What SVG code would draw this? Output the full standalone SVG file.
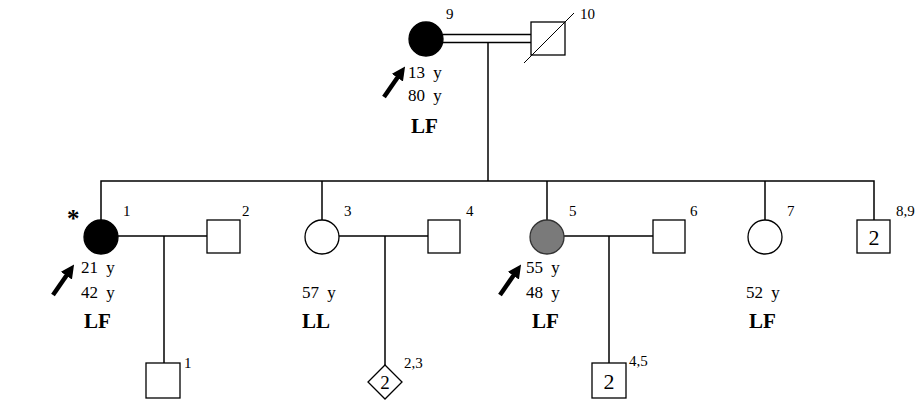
<svg xmlns="http://www.w3.org/2000/svg" width="918" height="408" viewBox="0 0 918 408">
<defs>
<style>
.ln{stroke:#000;stroke-width:1.5;fill:none}
.sym{stroke:#000;stroke-width:1.3;fill:#fff}
.aff{fill:#000;stroke:#000;stroke-width:1.3}
.t{font-family:"Liberation Serif",serif;font-size:17px;word-spacing:4px;fill:#000}
.n{font-family:"Liberation Serif",serif;font-size:15px;fill:#000}
.b{font-family:"Liberation Serif",serif;font-size:21px;font-weight:bold;fill:#000}
.c{font-family:"Liberation Serif",serif;font-size:22px;fill:#000;text-anchor:middle}
.arr{stroke:#000;stroke-width:4.5;fill:none}
</style>
<marker id="ah" viewBox="0 0 10 10" refX="6" refY="5" markerWidth="3" markerHeight="3" orient="auto" markerUnits="strokeWidth">
<path d="M0,0 L10,5 L0,10 Z" fill="#000"/>
</marker>
</defs>
<rect width="918" height="408" fill="#fff"/>
<g id="connectors">
<line class="ln" x1="443" y1="34.5" x2="531" y2="34.5"/>
<line class="ln" x1="443" y1="42.5" x2="531" y2="42.5"/>
<line class="ln" x1="488" y1="42.5" x2="488" y2="181"/>
<polyline class="ln" points="101,220 101,181 874,181 874,220"/>
<line class="ln" x1="322" y1="181" x2="322" y2="220"/>
<line class="ln" x1="547" y1="181" x2="547" y2="220"/>
<line class="ln" x1="765" y1="181" x2="765" y2="220"/>
<line class="ln" x1="118" y1="236" x2="207" y2="236"/>
<line class="ln" x1="164" y1="236" x2="164" y2="363"/>
<line class="ln" x1="339" y1="236" x2="428" y2="236"/>
<line class="ln" x1="385" y1="236" x2="385" y2="365"/>
<line class="ln" x1="564" y1="236" x2="653" y2="236"/>
<line class="ln" x1="609" y1="236" x2="609" y2="363"/>
</g>
<g id="n9">
<circle class="aff" cx="426" cy="39" r="17"/>
<text class="n" x="446" y="19">9</text>
<line class="arr" x1="384" y1="97" x2="402" y2="71" marker-end="url(#ah)"/>
<text class="t" x="408" y="78">13 y</text>
<text class="t" x="408" y="101">80 y</text>
<text class="b" x="411" y="133">LF</text>
</g>
<g id="n10">
<rect class="sym" x="531" y="22" width="34" height="33"/>
<line class="ln" x1="524" y1="63" x2="574" y2="13" style="stroke-width:1"/>
<text class="n" x="580" y="19">10</text>
</g>
<g id="n1">
<text class="b" x="67" y="227" style="font-size:25px">*</text>
<circle class="aff" cx="101" cy="237" r="17"/>
<text class="n" x="123" y="216">1</text>
<line class="arr" x1="53" y1="295" x2="71" y2="269" marker-end="url(#ah)"/>
<text class="t" x="81" y="273">21 y</text>
<text class="t" x="81" y="298">42 y</text>
<text class="b" x="84" y="328">LF</text>
</g>
<g id="n2">
<rect class="sym" x="207" y="220" width="33" height="33"/>
<text class="n" x="242" y="216">2</text>
</g>
<g id="n3">
<circle class="sym" cx="322" cy="237" r="17"/>
<text class="n" x="344" y="216">3</text>
<text class="t" x="302" y="298">57 y</text>
<text class="b" x="302" y="328">LL</text>
</g>
<g id="n4">
<rect class="sym" x="428" y="220" width="32" height="33"/>
<text class="n" x="466" y="216">4</text>
</g>
<g id="n5">
<circle cx="547" cy="237" r="17" fill="#7a7a7a" stroke="#333" stroke-width="1.3"/>
<text class="n" x="569" y="216">5</text>
<line class="arr" x1="500" y1="295" x2="518" y2="269" marker-end="url(#ah)"/>
<text class="t" x="526" y="273">55 y</text>
<text class="t" x="526" y="298">48 y</text>
<text class="b" x="532" y="328">LF</text>
</g>
<g id="n6">
<rect class="sym" x="653" y="220" width="32" height="33"/>
<text class="n" x="690" y="216">6</text>
</g>
<g id="n7">
<circle class="sym" cx="765" cy="237" r="17"/>
<text class="n" x="787" y="216">7</text>
<text class="t" x="746" y="298">52 y</text>
<text class="b" x="749" y="328">LF</text>
</g>
<g id="n89">
<rect class="sym" x="857" y="220" width="33" height="33"/>
<text class="c" x="874" y="245">2</text>
<text class="n" x="896" y="216">8,9</text>
</g>
<g id="c1">
<rect class="sym" x="146" y="363" width="34" height="35"/>
<text class="n" x="184" y="368">1</text>
</g>
<g id="c23">
<polygon class="sym" points="385,365 402,382 385,399 368,382"/>
<text class="c" x="385" y="389" style="font-size:19px">2</text>
<text class="n" x="404" y="368">2,3</text>
</g>
<g id="c45">
<rect class="sym" x="592" y="363" width="34" height="35"/>
<text class="c" x="609" y="389">2</text>
<text class="n" x="629" y="366">4,5</text>
</g>
</svg>
